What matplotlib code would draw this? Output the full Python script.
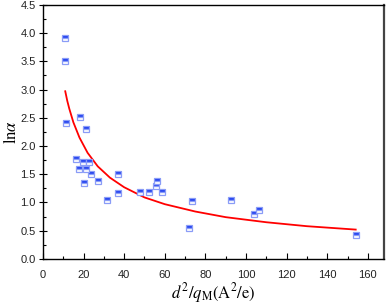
import numpy as np
import matplotlib
matplotlib.use("Agg")
import matplotlib.pyplot as plt

plt.rcParams['mathtext.fontset'] = 'stix'

# measured points (d^2/q_M, ln alpha)
x_pts = [11.0, 11.0, 11.5, 18.5, 21.0, 16.1, 17.9, 19.9, 21.2, 22.5, 23.5, 20.0,
         26.9, 31.4, 36.8, 36.8, 47.9, 52.2, 55.5, 56.0, 58.6, 71.9, 73.4,
         92.6, 104.1, 106.4, 154.0]
y_pts = [3.91, 3.50, 2.41, 2.52, 2.30, 1.77, 1.60, 1.71, 1.60, 1.71, 1.51, 1.34,
         1.38, 1.05, 1.51, 1.17, 1.19, 1.19, 1.30, 1.38, 1.19, 0.54, 1.02,
         1.04, 0.79, 0.86, 0.43]

# fitted curve
x_fit = [11, 12, 13, 15, 18, 22, 27, 33, 40, 50, 60, 75, 90, 110, 130, 154]
y_fit = [2.97, 2.80, 2.66, 2.42, 2.15, 1.88, 1.64, 1.44, 1.27, 1.09, 0.97,
         0.84, 0.74, 0.65, 0.58, 0.52]

fig = plt.figure(figsize=(3.9, 3.05), dpi=100)
ax = fig.add_axes([0.110, 0.151, 0.875, 0.833])

ax.plot(x_fit, y_fit, color='red', lw=1.3, zorder=2)
ax.plot(x_pts, y_pts, ls='none', marker='s', markersize=4.8, fillstyle='top',
        color='#1f3ff0', markerfacecoloralt='white', markeredgecolor='#8a9cf7',
        markeredgewidth=0.9, zorder=3)

ax.set_xlim(0, 168)
ax.set_ylim(0, 4.5)
ax.set_xticks(np.arange(0, 161, 20))
ax.set_xticks(np.arange(10, 161, 20), minor=True)
ax.set_yticks(np.arange(0, 4.51, 0.5))
ax.set_yticks(np.arange(0.25, 4.5, 0.5), minor=True)
ax.set_yticklabels(['%.1f' % v for v in np.arange(0, 4.51, 0.5)])

ax.tick_params(axis='x', which='major', direction='in', length=4, width=0.8,
               labelsize=8, pad=8)
ax.tick_params(axis='x', which='minor', direction='in', length=2.5, width=0.8)
ax.tick_params(axis='y', which='major', direction='inout', length=6, width=0.8,
               labelsize=8, pad=2)
ax.tick_params(axis='y', which='minor', direction='in', length=2.5, width=0.8)
for lab in ax.get_xticklabels() + ax.get_yticklabels():
    lab.set_fontfamily('Liberation Sans')
    lab.set_color('#222222')

for s in ax.spines.values():
    s.set_linewidth(1.0)
ax.spines['right'].set_linewidth(1.6)
ax.spines['right'].set_color('#444444')

ax.set_xlabel(r'$d^{2}/q_{\mathrm{M}}(\mathrm{A}^{2}/\mathrm{e})$',
              fontsize=12, labelpad=1)
ax.set_ylabel(r'$\mathrm{ln}\alpha$', fontsize=12)
ax.yaxis.set_label_coords(-0.068, 0.5)

fig.savefig('out.png', dpi=100)
